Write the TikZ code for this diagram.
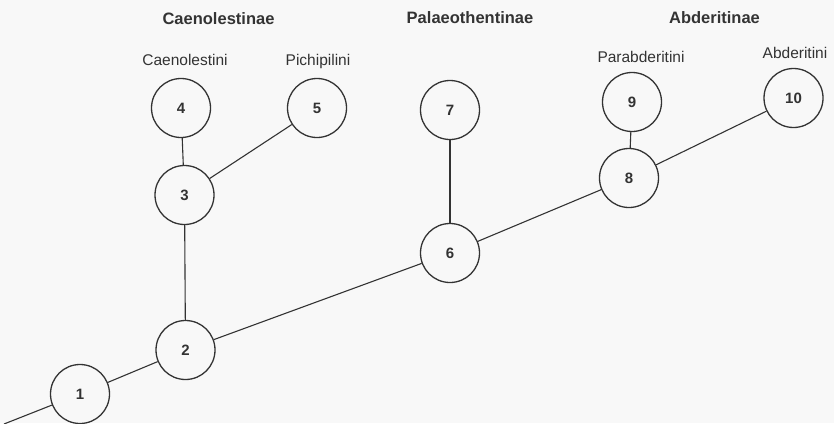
\documentclass[tikz,border=0pt]{standalone}
\usepackage{fontspec}
\setmainfont{Liberation Sans}
\definecolor{bg}{HTML}{F8F8F8}
\definecolor{ink}{HTML}{333333}
\tikzset{
  taxon/.style={circle, draw=ink, line width=1.3pt, minimum size=59pt, inner sep=0pt,
    text=ink, font=\fontsize{15}{17}\selectfont\bfseries},
  branch/.style={draw=ink, line width=1.1pt},
  header/.style={text=ink, font=\fontsize{16.5}{18}\selectfont\bfseries, anchor=base},
  tribe/.style={text=ink, font=\fontsize{15.5}{17}\selectfont, anchor=base},
}
\begin{document}
\begin{tikzpicture}[x=1pt,y=-1pt]
\fill[bg] (0,0) rectangle (834,423);
\useasboundingbox (0,0) rectangle (834,423);
% nodes
\node[taxon] (n1) at (80,394) {1};
\node[taxon] (n2) at (185.5,350) {2};
\node[taxon] (n3) at (184.5,195) {3};
\node[taxon] (n4) at (181,108) {4};
\node[taxon] (n5) at (317,108) {5};
\node[taxon] (n6) at (450,253) {6};
\node[taxon] (n7) at (450,110) {7};
\node[taxon] (n8) at (629,178) {8};
\node[taxon] (n9) at (632,102) {9};
\node[taxon] (n10) at (793.5,98) {10};
\coordinate (root) at (4,424);
% branches
\draw[branch] (root) -- (n1);
\draw[branch] (n1) -- (n2);
\draw[branch] (n2) -- (n3);
\draw[branch] (n3) -- (n4);
\draw[branch] (n3) -- (n5);
\draw[branch] (n2) -- (n6);
\draw[branch] (n6) -- (n7);
\draw[branch] (n6) -- (n8);
\draw[branch] (n8) -- (n9);
\draw[branch] (n8) -- (n10);
% headers
\node[header] (hC) at (218.5,24) {Caenolestinae};
\node[header] (hP) at (470,23) {Palaeothentinae};
\node[header] (hA) at (714.5,23) {Abderitinae};
% tribes
\node[tribe] (tC) at (185,65) {Caenolestini};
\node[tribe] (tP) at (318,65) {Pichipilini};
\node[tribe] (tPa) at (641,62) {Parabderitini};
\node[tribe] (tA) at (795,58) {Abderitini};
\end{tikzpicture}
\end{document}
